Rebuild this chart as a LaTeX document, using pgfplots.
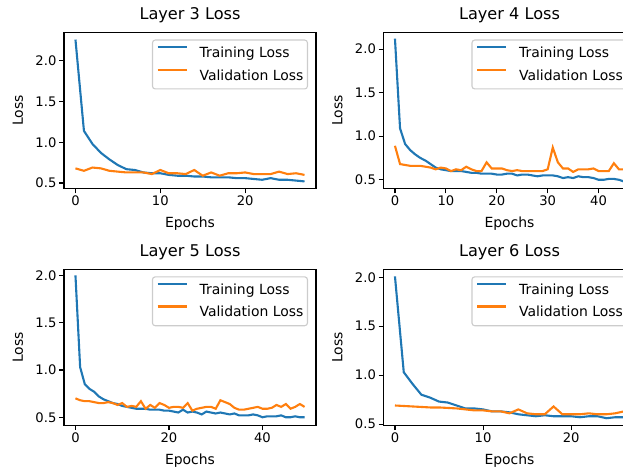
\documentclass[border=0pt]{standalone}
\usepackage{fontspec}
\setmainfont{DejaVu Sans}
\usepackage{pgfplots}
\pgfplotsset{compat=1.18}
\definecolor{c0}{HTML}{1F77B4}
\definecolor{c1}{HTML}{FF7F0E}
\definecolor{lgray}{HTML}{CCCCCC}

\pgfplotsset{
  lossax/.style={
    scale only axis, width=252bp, height=156bp,
    anchor=south west,
    axis line style={line width=1.1bp, black},
    tick align=outside, xtick pos=bottom, ytick pos=left,
    major tick length=4.9bp,
    every tick/.style={black, line width=1.1bp},
    minor tick num=0,
    ytick={0.5,1.0,1.5,2.0},
    yticklabel style={/pgf/number format/fixed, /pgf/number format/fixed zerofill, /pgf/number format/precision=1},
    /pgf/number format/assume math mode=true,
    scaled ticks=false,
    tick label style={font=\fontsize{13.2}{15}\selectfont, inner sep=2.5bp},
    xlabel=Epochs, ylabel=Loss,
    every axis x label/.style={at={(axis description cs:0.5,0)}, yshift=-35bp, anchor=center, font=\fontsize{14}{16}\selectfont},
    every axis y label/.style={at={(axis description cs:0,0.5)}, xshift=-46bp, rotate=90, anchor=center, font=\fontsize{14}{16}\selectfont},
    title style={at={(0.5,1)}, anchor=base, yshift=7.3bp, font=\fontsize{16.2}{19}\selectfont},
    legend cell align=left,
    legend image code/.code={\draw[#1, line width=2.1bp] (0bp,6.5bp) -- (29bp,6.5bp);},
    legend style={at={(1,1)}, anchor=north east, xshift=-8bp, yshift=-7bp,
      draw=lgray, line width=1.1bp, rounded corners=2.8bp, fill=white, fill opacity=0.8, draw opacity=1, text opacity=1,
      font=\fontsize{14}{16}\selectfont, inner xsep=4bp, inner ysep=5.9bp, row sep=8.4bp,
      nodes={inner sep=0pt, text height=10.6bp, text depth=3bp},
      /tikz/every odd column/.append style={column sep=12bp}},
    every axis plot/.append style={line width=2.1bp, mark=none},
  }
}

\begin{document}
\begin{tikzpicture}[trim left=0bp, trim right=623bp]
\path (0,0) rectangle (623bp,469bp);

% Layer 3
\begin{axis}[lossax, at={(64bp,280.5bp)}, title={Layer 3 Loss},
  xmin=-1.35, xmax=28.35, ymin=0.433, ymax=2.347, xtick={0,10,20}]
\addplot[c0] coordinates {(0,2.26)(1,1.14)(2,0.98)(3,0.87)(4,0.79)(5,0.72)(6,0.67)(7,0.66)(8,0.63)(9,0.62)(10,0.62)(11,0.60)(12,0.59)(13,0.59)(14,0.58)(15,0.58)(16,0.57)(17,0.57)(18,0.57)(19,0.56)(20,0.56)(21,0.55)(22,0.54)(23,0.56)(24,0.54)(25,0.54)(26,0.53)(27,0.52)};
\addplot[c1] coordinates {(0,0.68)(1,0.65)(2,0.69)(3,0.68)(4,0.65)(5,0.64)(6,0.63)(7,0.63)(8,0.63)(9,0.61)(10,0.66)(11,0.62)(12,0.62)(13,0.61)(14,0.66)(15,0.59)(16,0.63)(17,0.59)(18,0.62)(19,0.62)(20,0.63)(21,0.61)(22,0.61)(23,0.61)(24,0.64)(25,0.61)(26,0.62)(27,0.60)};
\legend{Training Loss, Validation Loss}
\end{axis}

% Layer 4
\begin{axis}[lossax, at={(383.5bp,280.5bp)}, title={Layer 4 Loss},
  xmin=-2.25, xmax=47.25, ymin=0.40, ymax=2.19, xtick={0,10,20,30,40}]
\addplot[c0] coordinates {(0,2.12)(1,1.09)(2,0.91)(3,0.84)(4,0.79)(5,0.75)(6,0.72)(7,0.68)(8,0.64)(9,0.62)(10,0.61)(11,0.60)(12,0.60)(13,0.60)(14,0.59)(15,0.58)(16,0.58)(17,0.57)(18,0.57)(19,0.57)(20,0.56)(21,0.56)(22,0.57)(23,0.57)(24,0.55)(25,0.56)(26,0.56)(27,0.55)(28,0.54)(29,0.55)(30,0.55)(31,0.55)(32,0.54)(33,0.52)(34,0.53)(35,0.52)(36,0.54)(37,0.53)(38,0.53)(39,0.52)(40,0.50)(41,0.50)(42,0.51)(43,0.51)(44,0.50)(45,0.48)};
\addplot[c1] coordinates {(0,0.89)(1,0.68)(2,0.67)(3,0.66)(4,0.66)(5,0.66)(6,0.65)(7,0.64)(8,0.62)(9,0.64)(10,0.63)(11,0.60)(12,0.62)(13,0.61)(14,0.65)(15,0.62)(16,0.60)(17,0.60)(18,0.70)(19,0.63)(20,0.63)(21,0.63)(22,0.61)(23,0.60)(24,0.61)(25,0.60)(26,0.60)(27,0.60)(28,0.60)(29,0.60)(30,0.62)(31,0.87)(32,0.70)(33,0.63)(34,0.63)(35,0.59)(36,0.62)(37,0.62)(38,0.62)(39,0.63)(40,0.60)(41,0.60)(42,0.60)(43,0.69)(44,0.62)(45,0.62)};
\legend{Training Loss, Validation Loss}
\end{axis}

% Layer 5
\begin{axis}[lossax, at={(64bp,43.7bp)}, title={Layer 5 Loss},
  xmin=-2.45, xmax=51.45, ymin=0.415, ymax=2.065, xtick={0,20,40}]
\addplot[c0] coordinates {(0,2.00)(1,1.03)(2,0.85)(3,0.80)(4,0.77)(5,0.72)(6,0.69)(7,0.67)(8,0.65)(9,0.64)(10,0.62)(11,0.61)(12,0.60)(13,0.59)(14,0.59)(15,0.59)(16,0.58)(17,0.58)(18,0.58)(19,0.57)(20,0.57)(21,0.56)(22,0.55)(23,0.58)(24,0.55)(25,0.56)(26,0.55)(27,0.53)(28,0.56)(29,0.55)(30,0.54)(31,0.55)(32,0.54)(33,0.53)(34,0.54)(35,0.52)(36,0.52)(37,0.52)(38,0.53)(39,0.52)(40,0.50)(41,0.51)(42,0.51)(43,0.51)(44,0.52)(45,0.50)(46,0.50)(47,0.51)(48,0.50)(49,0.50)};
\addplot[c1] coordinates {(0,0.70)(1,0.68)(2,0.67)(3,0.67)(4,0.66)(5,0.65)(6,0.65)(7,0.66)(8,0.65)(9,0.63)(10,0.65)(11,0.61)(12,0.62)(13,0.61)(14,0.67)(15,0.59)(16,0.63)(17,0.60)(18,0.65)(19,0.63)(20,0.60)(21,0.61)(22,0.61)(23,0.60)(24,0.65)(25,0.57)(26,0.59)(27,0.60)(28,0.61)(29,0.61)(30,0.59)(31,0.68)(32,0.66)(33,0.64)(34,0.60)(35,0.58)(36,0.58)(37,0.59)(38,0.60)(39,0.61)(40,0.59)(41,0.59)(42,0.60)(43,0.63)(44,0.61)(45,0.64)(46,0.59)(47,0.61)(48,0.64)(49,0.61)};
\legend{Training Loss, Validation Loss}
\end{axis}

% Layer 6
\begin{axis}[lossax, at={(383.5bp,43.7bp)}, title={Layer 6 Loss},
  xmin=-1.3, xmax=27.3, ymin=0.4875, ymax=2.0825, xtick={0,10,20}]
\addplot[c0] coordinates {(0,2.01)(1,1.03)(2,0.91)(3,0.80)(4,0.77)(5,0.73)(6,0.72)(7,0.69)(8,0.66)(9,0.66)(10,0.65)(11,0.63)(12,0.63)(13,0.62)(14,0.60)(15,0.59)(16,0.58)(17,0.59)(18,0.58)(19,0.58)(20,0.58)(21,0.57)(22,0.58)(23,0.58)(24,0.56)(25,0.57)(26,0.57)};
\addplot[c1] coordinates {(0,0.69)(1,0.685)(2,0.68)(3,0.675)(4,0.67)(5,0.67)(6,0.665)(7,0.66)(8,0.65)(9,0.64)(10,0.64)(11,0.63)(12,0.63)(13,0.61)(14,0.65)(15,0.61)(16,0.60)(17,0.60)(18,0.68)(19,0.60)(20,0.60)(21,0.60)(22,0.61)(23,0.60)(24,0.60)(25,0.61)(26,0.63)};
\legend{Training Loss, Validation Loss}
\end{axis}
\end{tikzpicture}
\end{document}
